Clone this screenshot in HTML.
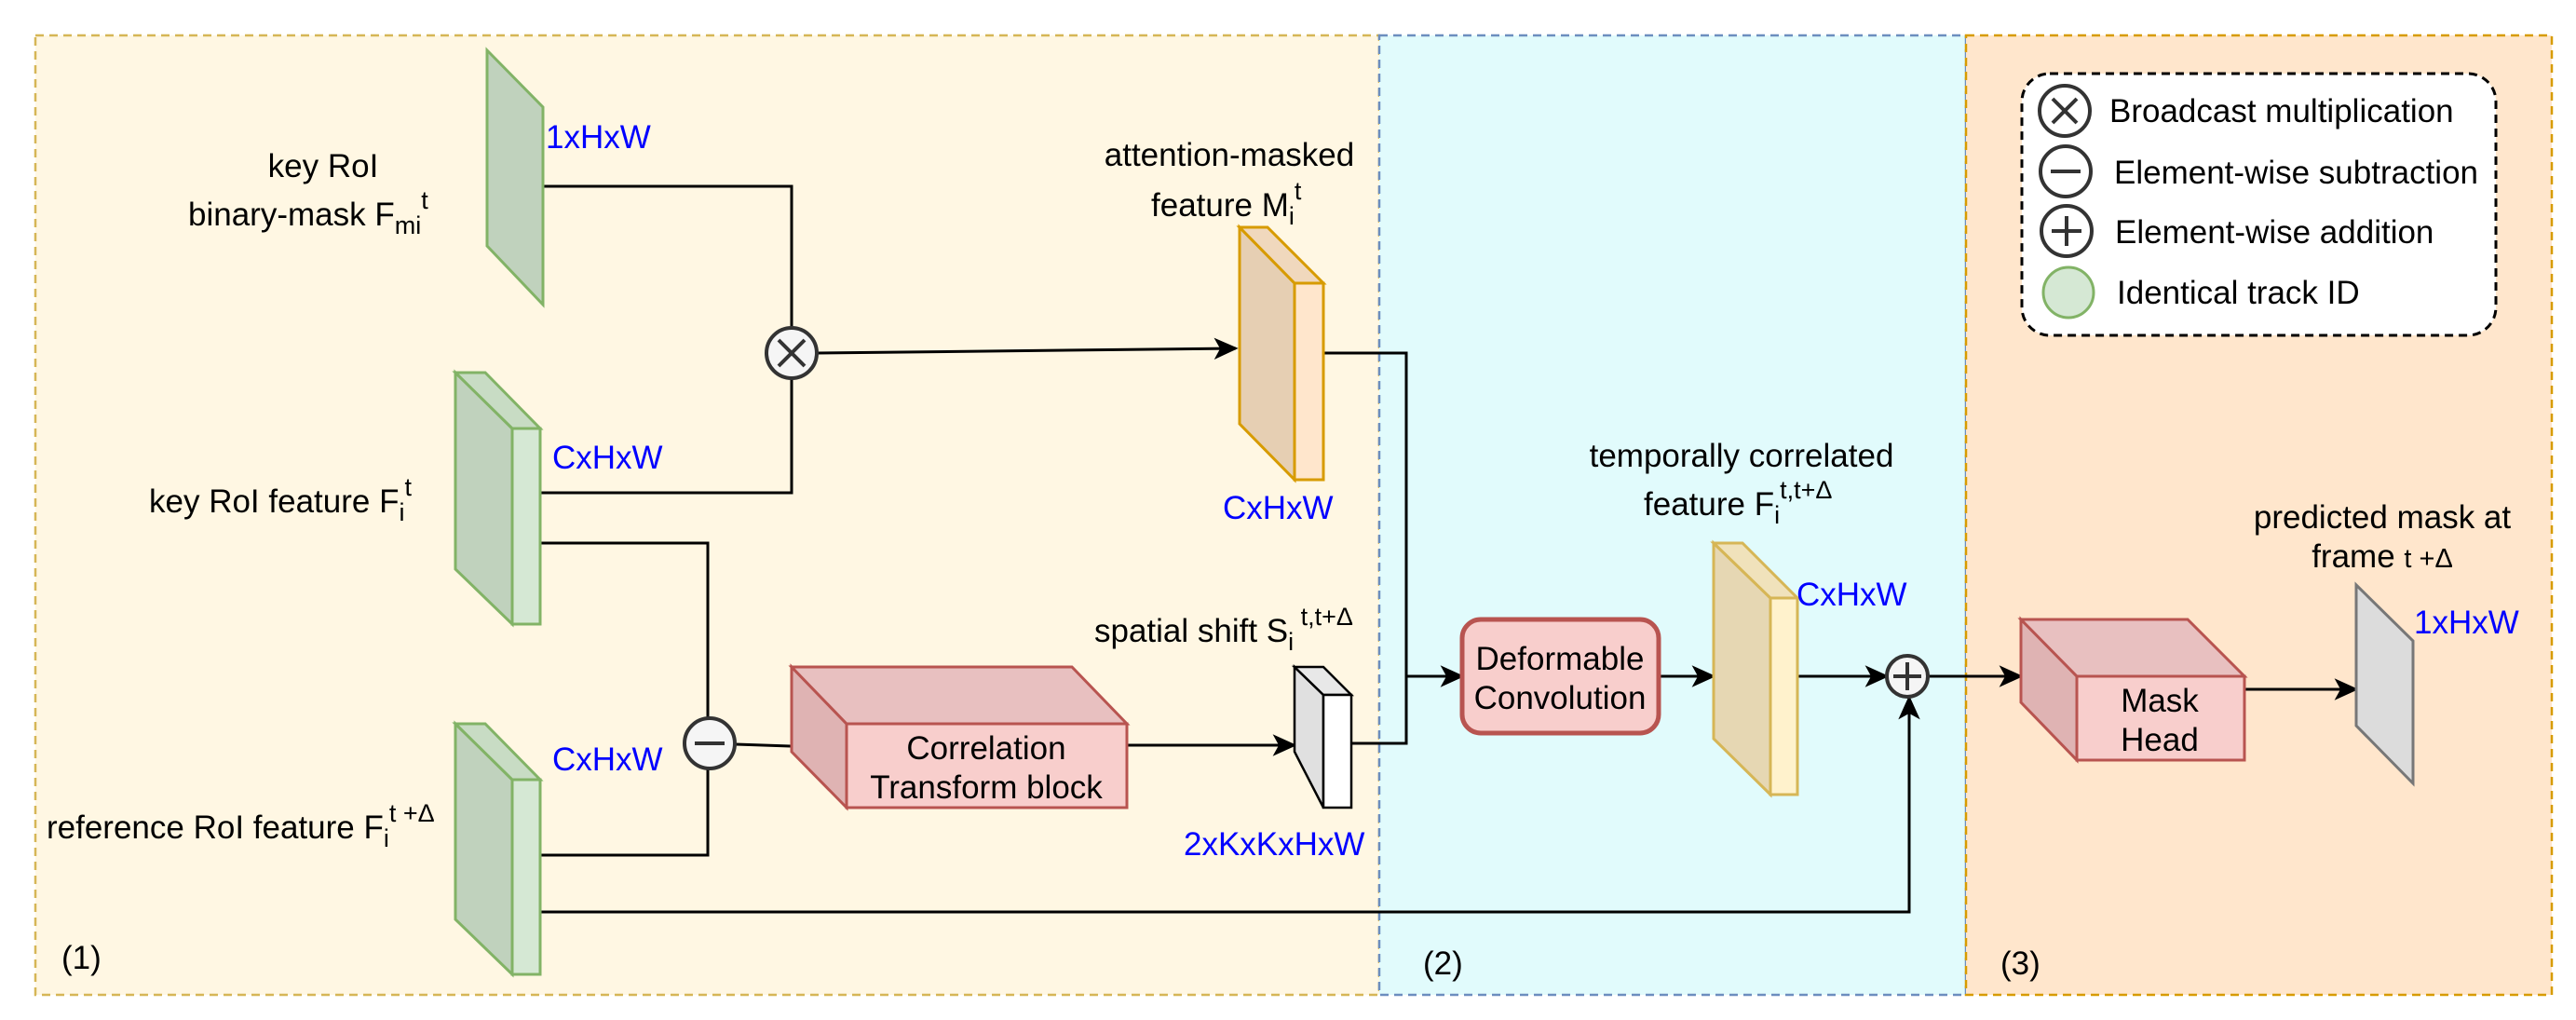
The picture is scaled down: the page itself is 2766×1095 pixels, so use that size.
<!DOCTYPE html>
<html><head><meta charset="utf-8"><style>
html,body{margin:0;padding:0;background:#fff}
svg{display:block}
text{font-family:"Liberation Sans",Arial,sans-serif;font-size:35px;fill:#000}
.b{fill:#0000ff}
</style></head><body>
<svg width="2766" height="1095" viewBox="0 0 2766 1095" xmlns="http://www.w3.org/2000/svg">
<defs>
<marker id="ar" viewBox="0 0 20 20" refX="18" refY="10" markerWidth="26" markerHeight="26" orient="auto" markerUnits="userSpaceOnUse">
<path d="M0,1 L20,10 L0,19 L5,10 Z" fill="#000"/>
</marker>
</defs>
<rect x="38" y="38" width="1443" height="1030" fill="#fff7e3" stroke="#d6b656" stroke-width="2.5" stroke-dasharray="9,6"/>
<rect x="1481" y="38" width="630" height="1030" fill="#e1fbfc" stroke="#6c8ebf" stroke-width="2.5" stroke-dasharray="9,6"/>
<rect x="2111" y="38" width="629" height="1030" fill="#ffe6cc" stroke="#d79b00" stroke-width="2.5" stroke-dasharray="9,6"/>

<g stroke="#000" stroke-width="3" fill="none">
<polyline points="583,200 850,200 850,351"/>
<polyline points="580,529 850,529 850,407"/>
<line x1="878" y1="379" x2="1327" y2="374" marker-end="url(#ar)"/>
<polyline points="580,583 760,583 760,771"/>
<polyline points="760,825 760,918 580,918"/>
<line x1="790" y1="799" x2="878" y2="802" marker-end="url(#ar)"/>
<line x1="1210" y1="800" x2="1390" y2="800" marker-end="url(#ar)"/>
<polyline points="1421,379 1510,379 1510,798 1451,798"/>
<line x1="1510" y1="726" x2="1570" y2="726" marker-end="url(#ar)"/>
<line x1="1781" y1="726" x2="1840" y2="726" marker-end="url(#ar)"/>
<line x1="1930" y1="726" x2="2026" y2="726" marker-end="url(#ar)"/>
<polyline points="580,979 2050,979 2050,749" marker-end="url(#ar)"/>
<line x1="2071" y1="726" x2="2170" y2="726" marker-end="url(#ar)"/>
<line x1="2410" y1="740" x2="2530" y2="740" marker-end="url(#ar)"/>
</g>

<polygon points="523,54 583,115 583,327 523,264" fill="#c0d2bd" stroke="#82b366" stroke-width="3"/>
<g stroke="#82b366" stroke-width="3">
<polygon points="489,400 489,611 550,670 550,460" fill="#c0d2bd"/>
<polygon points="489,400 521,400 580,460 550,460" fill="#c8dcc4"/>
<rect x="550" y="460" width="30" height="210" fill="#d5e8d4"/>
<polygon points="489,777 489,987 550,1046 550,837" fill="#c0d2bd"/>
<polygon points="489,777 521,777 580,837 550,837" fill="#c8dcc4"/>
<rect x="550" y="837" width="30" height="209" fill="#d5e8d4"/>
</g>
<g stroke="#d79b00" stroke-width="3">
<polygon points="1331,244 1331,455 1390,515 1390,304" fill="#e6cfb3"/>
<polygon points="1331,244 1361,244 1421,304 1390,304" fill="#f0d8bd"/>
<rect x="1390" y="304" width="31" height="211" fill="#ffe6cc"/>
</g>
<g stroke="#b85450" stroke-width="3">
<polygon points="850,716 850,807 909,867 909,777" fill="#dfb3b3"/>
<polygon points="850,716 1151,716 1210,777 909,777" fill="#e8c0c0"/>
<rect x="909" y="777" width="301" height="90" fill="#f8cecc"/>
</g>
<g stroke="#000" stroke-width="2.5">
<polygon points="1390,716 1390,807 1421,867 1421,746" fill="#e0e0e0"/>
<polygon points="1390,716 1421,716 1451,746 1421,746" fill="#e8e8e8"/>
<rect x="1421" y="746" width="30" height="121" fill="#fff"/>
</g>
<rect x="1570" y="665" width="211" height="122" rx="20" fill="#f8cecc" stroke="#b85450" stroke-width="5"/>
<g stroke="#d6b656" stroke-width="3">
<polygon points="1840,583 1840,793 1901,853 1901,642" fill="#e6d7b3"/>
<polygon points="1840,583 1871,583 1930,642 1901,642" fill="#f0e2bb"/>
<rect x="1901" y="642" width="29" height="211" fill="#fff2cc"/>
</g>
<g stroke="#b85450" stroke-width="3">
<polygon points="2170,665 2170,754 2230,816 2230,726" fill="#dfb3b3"/>
<polygon points="2170,665 2349,665 2410,726 2230,726" fill="#e8c0c0"/>
<rect x="2230" y="726" width="180" height="90" fill="#f8cecc"/>
</g>
<polygon points="2530,628 2591,688 2591,841 2530,779" fill="#dcdcdc" stroke="#777" stroke-width="3"/>

<g stroke="#333" stroke-width="4" fill="#f5f5f5">
<circle cx="850" cy="379" r="27"/>
<line x1="836" y1="365" x2="864" y2="393"/><line x1="864" y1="365" x2="836" y2="393"/>
<circle cx="762" cy="798" r="27"/>
<line x1="746" y1="798" x2="778" y2="798"/>
<circle cx="2048" cy="726" r="22"/>
<line x1="2033" y1="726" x2="2063" y2="726"/><line x1="2048" y1="711" x2="2048" y2="741"/>
</g>

<rect x="2171" y="79" width="509" height="281" rx="30" fill="#fff" stroke="#000" stroke-width="3" stroke-dasharray="9,6"/>
<g stroke="#333" stroke-width="4" fill="none">
<circle cx="2217" cy="119" r="27"/>
<line x1="2204" y1="106" x2="2230" y2="132"/><line x1="2230" y1="106" x2="2204" y2="132"/>
<circle cx="2218" cy="184" r="27"/>
<line x1="2202" y1="184" x2="2234" y2="184"/>
<circle cx="2219" cy="248" r="27"/>
<line x1="2203" y1="248" x2="2235" y2="248"/><line x1="2219" y1="232" x2="2219" y2="264"/>
</g>
<circle cx="2221" cy="314" r="27" fill="#d5e8d4" stroke="#82b366" stroke-width="3"/>
<text x="2265" y="131">Broadcast multiplication</text>
<text x="2270" y="197">Element-wise subtraction</text>
<text x="2271" y="261">Element-wise addition</text>
<text x="2273" y="326">Identical track ID</text>

<text x="347" y="190" text-anchor="middle">key RoI</text>
<text x="202" y="242">binary-mask F<tspan font-size="27" dy="9">mi</tspan><tspan font-size="27" dy="-27">t</tspan></text>
<text class="b" x="586" y="159">1xHxW</text>
<text class="b" x="593" y="503">CxHxW</text>
<text x="160" y="550">key RoI feature F<tspan font-size="27" dy="9">i</tspan><tspan font-size="27" dy="-27">t</tspan></text>
<text class="b" x="593" y="827">CxHxW</text>
<text x="50" y="900">reference RoI feature F<tspan font-size="27" dy="9">i</tspan><tspan font-size="27" dy="-27">t +Δ</tspan></text>
<text x="1320" y="178" text-anchor="middle">attention-masked</text>
<text x="1236" y="232">feature M<tspan font-size="27" dy="9">i</tspan><tspan font-size="27" dy="-27">t</tspan></text>
<text class="b" x="1313" y="557">CxHxW</text>
<text x="1175" y="689">spatial shift S<tspan font-size="27" dy="9">i</tspan><tspan font-size="27" dy="-27"> t,t+Δ</tspan></text>
<text class="b" x="1271" y="918">2xKxKxHxW</text>
<text x="1059" y="815" text-anchor="middle">Correlation</text>
<text x="1059" y="857" text-anchor="middle">Transform block</text>
<text x="1675" y="719" text-anchor="middle">Deformable</text>
<text x="1675" y="761" text-anchor="middle">Convolution</text>
<text x="1870" y="501" text-anchor="middle">temporally correlated</text>
<text x="1765" y="553">feature F<tspan font-size="27" dy="9">i</tspan><tspan font-size="27" dy="-27">t,t+Δ</tspan></text>
<text class="b" x="1929" y="650">CxHxW</text>
<text x="2319" y="764" text-anchor="middle">Mask</text>
<text x="2319" y="806" text-anchor="middle">Head</text>
<text x="2558" y="567" text-anchor="middle">predicted mask at</text>
<text x="2558" y="609" text-anchor="middle">frame <tspan font-size="29">t +Δ</tspan></text>
<text class="b" x="2592" y="680">1xHxW</text>
<text x="66" y="1040" font-size="44">(1)</text>
<text x="1528" y="1046" font-size="44">(2)</text>
<text x="2148" y="1046" font-size="44">(3)</text>
</svg>
</body></html>
